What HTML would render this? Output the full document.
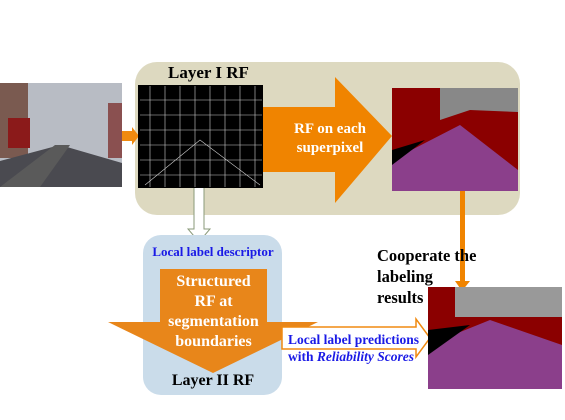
<!DOCTYPE html>
<html><head><style>
body{margin:0;width:565px;height:420px;background:#fff;position:relative;overflow:hidden;font-family:"Liberation Serif",serif;font-weight:bold}
.a{position:absolute}
</style></head><body>
<div class="a" style="left:135px;top:62px;width:385px;height:153px;background:#ddd9c0;border-radius:22px"></div>
<div class="a" style="left:168px;top:63px;font-size:17px">Layer I RF</div>
<svg class="a" style="left:0;top:83px" width="122" height="104">
<rect width="122" height="104" fill="#b8bcc4"/>
<rect y="0" width="28" height="75" fill="#7a5a50"/>
<rect x="8" y="35" width="22" height="30" fill="#8b1a1a"/>
<rect x="108" y="20" width="14" height="55" fill="#8a5050"/>
<polygon points="0,104 0,78 60,62 122,80 122,104" fill="#4a4a50"/>
<polygon points="0,104 55,62 70,62 40,104" fill="#5a5a5a"/>
</svg>
<svg class="a" style="left:0;top:0" width="565" height="420">
<polygon points="122,131 132,131 132,127 139,136 132,145 132,141 122,141" fill="#f08a10"/>
<rect x="138" y="85" width="125" height="103" fill="#000"/>
<g stroke="#ccc" stroke-width="0.6" fill="none">
<path d="M140,100 H262 M140,115 H262 M140,130 H262 M140,145 H262 M140,160 H262 M140,175 H262 M150,86 V187 M165,86 V187 M180,86 V187 M195,86 V187 M210,86 V187 M225,86 V187 M240,86 V187 M255,86 V187 M145,185 L200,140 L260,185"/>
</g>
<polygon points="263,107 335,107 335,77 392,136 335,203 335,172 263,172" fill="#f08400"/>
<rect x="392" y="88" width="126" height="103" fill="#888"/>
<polygon points="392,88 440,88 440,120 470,110 518,112 518,191 392,191" fill="#8b0000"/>
<polygon points="392,160 460,125 518,170 518,191 392,191" fill="#8b3f8b"/>
<polygon points="392,150 425,140 392,165" fill="#000"/>
<rect x="460" y="191" width="5" height="92" fill="#f08400"/>
<polygon points="455,281 470,281 462,291" fill="#f08400"/>
<path d="M194,188 V229 H188 L199,242 L210,229 H204 V188" fill="#fff" stroke="#8a9a7a" stroke-width="1"/>
</svg>
<div class="a" style="left:290px;top:120px;width:80px;text-align:center;color:#fff;font-size:15px;line-height:19px">RF on each superpixel</div>
<div class="a" style="left:143px;top:235px;width:139px;height:160px;background:#cadcea;border-radius:18px"></div>
<div class="a" style="left:143px;top:244px;width:140px;text-align:center;color:#1a1ae6;font-size:13px">Local label descriptor</div>
<svg class="a" style="left:0;top:0" width="565" height="420">
<polygon points="160,269 267,269 267,322 318,322 213,373 108,322 160,322" fill="#e8861a"/>
<polygon points="282,327 416,327 416,319 430,338 416,357 416,349 282,349" fill="#fff" stroke="#f08a10" stroke-width="1.5"/>
<rect x="428" y="287" width="134" height="102" fill="#8b0000"/>
<rect x="455" y="287" width="107" height="30" fill="#999"/>
<polygon points="428,345 490,320 562,345 562,389 428,389" fill="#8b3f8b"/>
<polygon points="428,330 470,325 428,355" fill="#000"/>
</svg>
<div class="a" style="left:160px;top:272px;width:107px;text-align:center;color:#fff;font-size:16px;line-height:20px">Structured<br>RF at<br>segmentation<br>boundaries</div>
<div class="a" style="left:143px;top:372px;width:140px;text-align:center;font-size:16px">Layer II RF</div>
<div class="a" style="left:288px;top:331px;color:#1a1ae6;font-size:13.5px;line-height:17px">Local label predictions<br>with <i>Reliability Scores</i></div>
<div class="a" style="left:377px;top:245px;font-size:16.5px;line-height:21px">Cooperate the<br>labeling<br>results</div>
</body></html>
